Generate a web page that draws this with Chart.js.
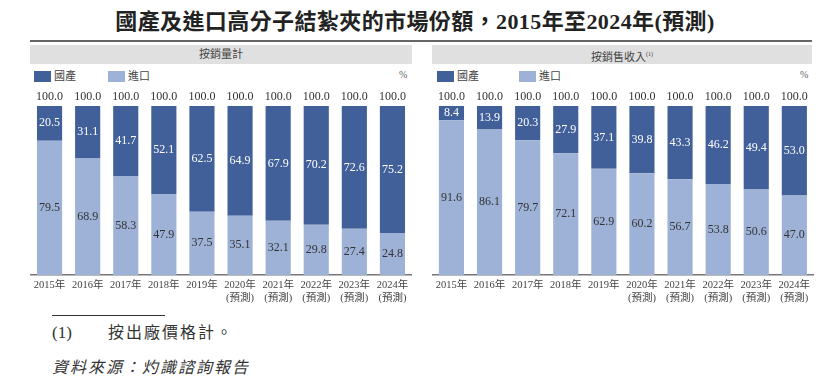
<!DOCTYPE html>
<html>
<head>
<meta charset="utf-8">
<script src="https://cdn.jsdelivr.net/npm/chart.js@4/dist/chart.umd.min.js"></script>
<style>
  body { margin: 0; background: #fff; width: 830px; height: 387px; position: relative; overflow: hidden;
    font-family: "Liberation Serif", "Noto Sans CJK TC", serif; color: #333; }
  .abs { position: absolute; }
  #title { left: 0; width: 830px; top: 8px; text-align: center; font-size: 22px; font-weight: bold; color: #222; line-height: 28px; letter-spacing: 0.4px; }
  #rule { left: 30px; top: 40px; width: 782px; height: 2px; background: #666; }
  .head { top: 45px; height: 19px; background: #e0e0e0; font-size: 11px; line-height: 19px; text-align: center; color: #444; }
  .head sup { font-size: 6px; }
  .sw { width: 17px; height: 11px; top: 71px; }
  .lg { top: 68px; font-size: 11px; line-height: 16px; color: #444; }
  .pct { top: 69px; font-size: 10px; color: #666; }
  canvas { position: absolute; }
  #fnline { left: 52px; top: 315px; width: 113px; height: 1px; background: #333; }
  .fn { font-size: 16px; line-height: 20px; color: #333; }
</style>
</head>
<body>
<div id="title" class="abs">國產及進口高分子結紮夾的市場份額，2015年至2024年(預測)</div>
<div id="rule" class="abs"></div>

<div class="abs head" style="left:30px;width:382px;">按銷量計</div>
<div class="abs head" style="left:432px;width:380px;">按銷售收入<sup>(1)</sup></div>

<div class="abs sw" style="left:34px;background:#41609a;"></div>
<div class="abs lg" style="left:54px;">國產</div>
<div class="abs sw" style="left:108px;background:#9db2d6;"></div>
<div class="abs lg" style="left:128px;">進口</div>
<div class="abs pct" style="left:399px;">%</div>

<div class="abs sw" style="left:437px;background:#41609a;"></div>
<div class="abs lg" style="left:457px;">國產</div>
<div class="abs sw" style="left:519px;background:#9db2d6;"></div>
<div class="abs lg" style="left:539px;">進口</div>
<div class="abs pct" style="left:800px;">%</div>

<canvas id="volChart" width="400" height="220" style="left:20px;top:86px;width:400px;height:220px;"></canvas>
<canvas id="revChart" width="400" height="220" style="left:420px;top:86px;width:400px;height:220px;"></canvas>

<div id="fnline" class="abs"></div>
<div class="abs fn" style="left:52px;top:323px;font-size:17px;">(1)</div>
<div class="abs fn" style="left:108px;top:323px;letter-spacing:2px;">按出廠價格計。</div>
<div class="abs fn" style="left:52px;top:358px;font-style:italic;letter-spacing:2px;">資料來源：灼識諮詢報告</div>

<script>
// categories
let years = ['2015年', '2016年', '2017年', '2018年', '2019年', '2020年', '2021年', '2022年', '2023年', '2024年'];
let forecast = [false, false, false, false, false, true, true, true, true, true];

// by volume (%)
let volDomestic = [20.5, 31.1, 41.7, 52.1, 62.5, 64.9, 67.9, 70.2, 72.6, 75.2];
let volImport = [79.5, 68.9, 58.3, 47.9, 37.5, 35.1, 32.1, 29.8, 27.4, 24.8];

// by revenue (%)
let revDomestic = [8.4, 13.9, 20.3, 27.9, 37.1, 39.8, 43.3, 46.2, 49.4, 53.0];
let revImport = [91.6, 86.1, 79.7, 72.1, 62.9, 60.2, 56.7, 53.8, 50.6, 47.0];

const darkBlue = '#41609a';
const lightBlue = '#9db2d6';
const numFont = '"Liberation Serif", "Noto Sans CJK TC", serif';

let labels = years.map((y, i) => forecast[i] ? [y, '(預測)'] : y);

// draws the values inside the bars and the total above
const barLabels = {
    id: 'barLabels',
    afterDatasetsDraw(chart) {
        const ctx = chart.ctx;
        ctx.save();
        ctx.font = '12px ' + numFont;
        ctx.textAlign = 'center';
        ctx.textBaseline = 'middle';
        chart.data.datasets.forEach((ds, i) => {
            let meta = chart.getDatasetMeta(i);
            meta.data.forEach((bar, j) => {
                let p = bar.getProps(['x', 'y', 'base'], true);
                ctx.fillStyle = i === 1 ? '#ffffff' : '#333333';
                ctx.fillText(ds.data[j].toFixed(1), p.x, (p.y + p.base) / 2);
            });
        });
        let top = chart.getDatasetMeta(chart.data.datasets.length - 1);
        top.data.forEach((bar, j) => {
            let total = chart.data.datasets.reduce((s, ds) => s + ds.data[j], 0);
            ctx.fillStyle = '#333333';
            ctx.fillText(total.toFixed(1), bar.x, bar.y - 9);
        });
        ctx.restore();
    }
};

function makeChart(id, importData, domesticData, padLeft, padRight) {
    return new Chart(document.getElementById(id), {
        type: 'bar',
        data: {
            labels: labels,
            datasets: [
                { label: '進口', data: importData, backgroundColor: lightBlue },
                { label: '國產', data: domesticData, backgroundColor: darkBlue }
            ]
        },
        options: {
            responsive: false,
            animation: false,
            events: [],
            layout: { padding: { left: padLeft, right: padRight, top: 20, bottom: 0 } },
            datasets: { bar: { categoryPercentage: 1, barPercentage: 0.66 } },
            plugins: { legend: { display: false }, tooltip: { enabled: false } },
            scales: {
                x: {
                    stacked: true,
                    grid: { display: false, drawTicks: false },
                    border: { display: true, color: '#777', width: 1.5 },
                    ticks: {
                        color: '#444',
                        font: { family: numFont, size: 10.5 },
                        padding: 4,
                        maxRotation: 0,
                        autoSkip: false
                    },
                    afterFit(scale) { scale.height = 31; }
                },
                y: {
                    stacked: true,
                    display: false,
                    min: 0,
                    max: 100
                }
            }
        },
        plugins: [barLabels]
    });
}

let volChart = makeChart('volChart', volImport, volDomestic, 10.5, 8.5);
let revChart = makeChart('revChart', revImport, revDomestic, 12.4, 6.6);
</script>
</body>
</html>
